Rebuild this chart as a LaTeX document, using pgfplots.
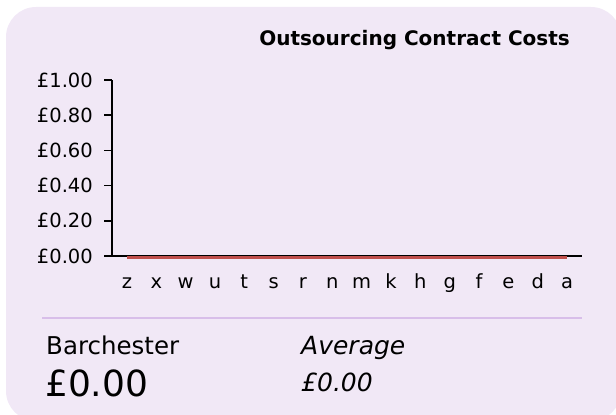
\documentclass[border=0pt]{standalone}
\usepackage{pgfplots}
\pgfplotsset{compat=1.18}
\usepackage{fontspec}
\setmainfont{DejaVu Sans}
\definecolor{bglav}{RGB}{241,232,246}
\definecolor{seplav}{RGB}{216,190,233}
\definecolor{redline}{RGB}{192,80,77}
\begin{document}
\begin{tikzpicture}[x=1bp,y=1bp]
\path[use as bounding box] (0,0) rectangle (616,414);
\begin{scope}
\clip (0,0) rectangle (616,414);
\fill[bglav, rounded corners=30bp] (6,-7) rectangle (621,407);
\end{scope}
\begin{axis}[
  at={(112bp,158bp)}, anchor=south west, scale only axis,
  width=470bp, height=176bp,
  xmin=-0.51, xmax=15.51, ymin=0, ymax=1,
  axis x line*=bottom, axis y line*=left,
  axis line style={line width=1.6bp, black, -},
  x axis line style={-}, y axis line style={-},
  xtick={0,...,15},
  xticklabels={z,x,w,u,t,s,r,n,m,k,h,g,f,e,d,a},
  ytick={0,0.2,0.4,0.6,0.8,1},
  yticklabels={£0.00,£0.20,£0.40,£0.60,£0.80,£1.00},
  tick align=outside,
  major tick length=8bp,
  xtick style={draw=none},
  ytick style={line width=1.6bp, black},
  ticklabel style={font=\fontsize{19.5bp}{23bp}\selectfont},
  xticklabel style={anchor=base, inner sep=0pt, yshift=-24bp},
  yticklabel style={anchor=east, inner sep=0pt, xshift=-11bp},
  clip=false,
]
\addplot[redline, line width=3bp, yshift=-1.5bp, mark=none] coordinates {
(0,0) (1,0) (2,0) (3,0) (4,0) (5,0) (6,0) (7,0) (8,0) (9,0) (10,0) (11,0) (12,0) (13,0) (14,0) (15,0)};
\end{axis}
\node[anchor=base east, inner sep=0pt, font=\bfseries\fontsize{20bp}{24bp}\selectfont] at (570,369) {Outsourcing Contract Costs};
\draw[seplav, line width=2bp] (42,96) -- (582,96);
\node[anchor=base west, inner sep=0pt, font=\fontsize{24.5bp}{29bp}\selectfont] at (46,60) {Barchester};
\node[anchor=base west, inner sep=0pt, font=\fontsize{36bp}{42bp}\selectfont] at (45,18) {£0.00};
\node[anchor=base west, inner sep=0pt, font=\itshape\fontsize{25bp}{30bp}\selectfont] at (301,60) {Average};
\node[anchor=base west, inner sep=0pt, font=\itshape\fontsize{25bp}{30bp}\selectfont] at (301,23) {£0.00};
\end{tikzpicture}
\end{document}
